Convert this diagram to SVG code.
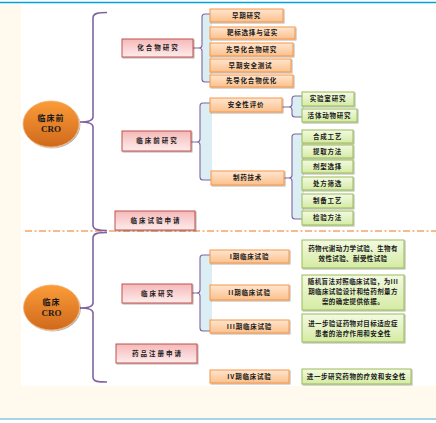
<svg xmlns="http://www.w3.org/2000/svg" width="436" height="423" viewBox="0 0 436 423">
<defs>
<linearGradient id="gRed" x1="0" y1="0" x2="0" y2="1"><stop offset="0" stop-color="#F5B9B9"/><stop offset="1" stop-color="#FFECEC"/></linearGradient>
<linearGradient id="gOr" x1="0" y1="0" x2="0" y2="1"><stop offset="0" stop-color="#FFE6D0"/><stop offset="1" stop-color="#FBC08C"/></linearGradient>
<linearGradient id="gGr" x1="0" y1="0" x2="0" y2="1"><stop offset="0" stop-color="#F3FAE2"/><stop offset="1" stop-color="#D5EBA3"/></linearGradient>
<linearGradient id="gEl" x1="0" y1="0" x2="0" y2="1"><stop offset="0" stop-color="#FB9C38"/><stop offset="1" stop-color="#D0691C"/></linearGradient>
<filter id="sh" x="-10%" y="-20%" width="130%" height="160%"><feDropShadow dx="1" dy="1" stdDeviation="0.6" flood-color="#000" flood-opacity="0.3"/></filter>
</defs>
<style>
.red{fill:url(#gRed);stroke:#C0504D;stroke-width:1;filter:url(#sh)}
.or{fill:url(#gOr);stroke:#F79646;stroke-width:1;filter:url(#sh)}
.gr{fill:url(#gGr);stroke:#9BBB59;stroke-width:1;filter:url(#sh)}
.el{fill:url(#gEl);stroke:#F6AE6A;stroke-width:0.8;filter:url(#sh)}
text{font-family:"Noto Sans CJK SC","Liberation Serif",sans-serif;font-weight:bold;fill:#1a1a1a;text-anchor:middle}
.t{font-size:6.5px;letter-spacing:0.8px}
.tr{font-size:6.5px;letter-spacing:2px}
.te{font-size:8px;letter-spacing:1px}
.cro{font-family:"Liberation Serif","DejaVu Serif",serif;font-size:9px}
.brace{fill:none;stroke:#8064A2;stroke-width:1.6}
.brk{fill:none;stroke:#8064A2;stroke-width:1.1}
.fill{fill:#DAEEF3}
</style>
<rect x="0" y="0" width="436" height="423" fill="#FFF9EE"/>
<rect x="0" y="0" width="436" height="2" fill="#FFFFFF"/>
<rect x="21" y="3" width="415" height="383" fill="#FFFFFF"/>
<line x1="0" y1="2.5" x2="436" y2="2.5" stroke="#00A3E0" stroke-width="1.3"/>
<line x1="0" y1="419" x2="436" y2="419" stroke="#86C8E4" stroke-width="1.6"/>
<rect x="0" y="420" width="436" height="3" fill="#FFFFFF"/>

<g id="connectors">
<line x1="25" y1="231" x2="436" y2="231" stroke="#F5A46A" stroke-width="1.6" stroke-dasharray="7,2.5,2,2.5"/>
<path class="brace" d="M107,12.5 C99,12.5 93,13 93,18 L93,117 C93,121 88,122 80,122 C88,122 93,123 93,127 L93,225 C93,230 99,230.5 107,230.5"/>
<path class="brace" d="M107,232.5 C99,232.5 93,233 93,238 L93,303 C93,307 88,308 80,308 C88,308 93,309 93,313 L93,377 C93,382 99,382 107,382"/>
<rect class="fill" x="202" y="14" width="10" height="68"/>
<path class="brk" d="M210,14 H205 Q202,14 202,17 V45 Q202,48 199,48 H193 M199,48 Q202,48 202,51 V79 Q202,82 205,82 H210"/>
<rect class="fill" x="200" y="103" width="12" height="77"/>
<path class="brk" d="M210,103 H203 Q200,103 200,106 V139 Q200,142 197,142 H191 M197,142 Q200,142 200,145 V177 Q200,180 203,180 H211"/>
<rect class="fill" x="292" y="96" width="12" height="21"/>
<path class="brk" d="M302,96 H295 Q292,96 292,99 V104 Q292,107 289,107 H282 M289,107 Q292,107 292,110 V114 Q292,117 295,117 H302"/>
<rect class="fill" x="292" y="134" width="12" height="85"/>
<path class="brk" d="M302,134 H295 Q292,134 292,137 V175 Q292,178 289,178 H284 M289,178 Q292,178 292,181 V216 Q292,219 295,219 H302"/>
<rect class="fill" x="200" y="255" width="12" height="76"/>
<path class="brk" d="M210,255 H203 Q200,255 200,258 V290 Q200,293 197,293 H192 M197,293 Q200,293 200,296 V328 Q200,331 203,331 H210"/>
</g>

<g id="n-preclinical-cro"><ellipse class="el" cx="51" cy="124" rx="28" ry="23"/><text class="te" x="51" y="121">临床前</text><text class="cro" x="51" y="132">CRO</text></g>
<g id="n-clinical-cro"><ellipse class="el" cx="51.5" cy="307.5" rx="28" ry="22.5"/><text class="te" x="51.5" y="304.5">临床</text><text class="cro" x="51.5" y="315.5">CRO</text></g>

<g id="n-compound"><rect class="red" x="122" y="39" width="71" height="18"/><text class="tr" x="158.5" y="50.3">化合物研究</text></g>
<g id="n-preclin-research"><rect class="red" x="122" y="131" width="69" height="20"/><text class="tr" x="157.5" y="143.3">临床前研究</text></g>
<g id="n-ind"><rect class="red" x="115" y="211" width="80" height="19"/><text class="tr" x="156" y="222.8">临床试验申请</text></g>
<g id="n-clin-research"><rect class="red" x="122" y="284" width="70" height="19"/><text class="tr" x="158" y="295.8">临床研究</text></g>
<g id="n-nda"><rect class="red" x="116" y="344" width="81" height="19"/><text class="tr" x="157.5" y="355.8">药品注册申请</text></g>

<g id="n-early"><rect class="or" x="210" y="9" width="73" height="13"/><text class="t" x="246.5" y="17.8">早期研究</text></g>
<g id="n-target"><rect class="or" x="210" y="27" width="85" height="12"/><text class="t" x="252.5" y="35.3">靶标选择与证实</text></g>
<g id="n-lead"><rect class="or" x="210" y="43" width="83" height="13"/><text class="t" x="251.5" y="51.8">先导化合物研究</text></g>
<g id="n-safety-test"><rect class="or" x="210" y="59" width="81" height="13"/><text class="t" x="250.5" y="67.8">早期安全测试</text></g>
<g id="n-lead-opt"><rect class="or" x="210" y="75" width="83" height="12"/><text class="t" x="251.5" y="83.3">先导化合物优化</text></g>
<g id="n-safety-eval"><rect class="or" x="210" y="98" width="72" height="14"/><text class="t" x="246" y="107.3">安全性评价</text></g>
<g id="n-pharm-tech"><rect class="or" x="211" y="171" width="73" height="14"/><text class="t" x="247.5" y="180.3">制药技术</text></g>

<g id="n-lab"><rect class="gr" x="302" y="92" width="52" height="14"/><text class="t" x="328" y="101.3">实验室研究</text></g>
<g id="n-animal"><rect class="gr" x="302" y="109" width="55" height="13"/><text class="t" x="329.5" y="117.8">活体动物研究</text></g>
<g id="n-synth"><rect class="gr" x="302" y="130" width="51" height="13"/><text class="t" x="327.5" y="138.8">合成工艺</text></g>
<g id="n-extract"><rect class="gr" x="302" y="145" width="51" height="13"/><text class="t" x="327.5" y="153.8">提取方法</text></g>
<g id="n-dosage"><rect class="gr" x="302" y="160" width="51" height="13"/><text class="t" x="327.5" y="168.8">剂型选择</text></g>
<g id="n-formula"><rect class="gr" x="302" y="177" width="51" height="13"/><text class="t" x="327.5" y="185.8">处方筛选</text></g>
<g id="n-prep"><rect class="gr" x="302" y="194" width="51" height="14"/><text class="t" x="327.5" y="203.3">制备工艺</text></g>
<g id="n-test"><rect class="gr" x="302" y="211" width="51" height="14"/><text class="t" x="327.5" y="220.3">检验方法</text></g>

<g id="n-p1"><rect class="or" x="210" y="250" width="79" height="13"/><text class="t" x="249.5" y="258.8">I期临床试验</text></g>
<g id="n-p2"><rect class="or" x="210" y="285" width="79" height="15"/><text class="t" x="249.5" y="294.8">II期临床试验</text></g>
<g id="n-p3"><rect class="or" x="210" y="320" width="79" height="13"/><text class="t" x="249.5" y="328.8">III期临床试验</text></g>
<g id="n-p4"><rect class="or" x="210" y="370" width="79" height="13"/><text class="t" x="249.5" y="378.8">IV期临床试验</text></g>

<g id="n-d1"><rect class="gr" x="302" y="240" width="102" height="28"/><text class="t" x="353" y="251.3" style="letter-spacing:0.4px">药物代谢动力学试验、生物有</text><text class="t" x="353" y="261.3" style="letter-spacing:0.4px">效性试验、耐受性试验</text></g>
<g id="n-d2"><rect class="gr" x="302" y="275" width="102" height="35"/><text class="t" x="353" y="284.3" style="letter-spacing:0.4px">随机盲法对照临床试验，为III</text><text class="t" x="353" y="294.3" style="letter-spacing:0.4px">期临床试验设计和给药剂量方</text><text class="t" x="353" y="304.3" style="letter-spacing:0.4px">案的确定提供依据。</text></g>
<g id="n-d3"><rect class="gr" x="302" y="314" width="102" height="28"/><text class="t" x="353" y="326.3" style="letter-spacing:0.4px">进一步验证药物对目标适应症</text><text class="t" x="353" y="336.3" style="letter-spacing:0.4px">患者的治疗作用和安全性</text></g>
<g id="n-d4"><rect class="gr" x="302" y="369" width="109" height="15"/><text class="t" x="356.5" y="378.8" style="letter-spacing:0.6px">进一步研究药物的疗效和安全性</text></g>
</svg>
